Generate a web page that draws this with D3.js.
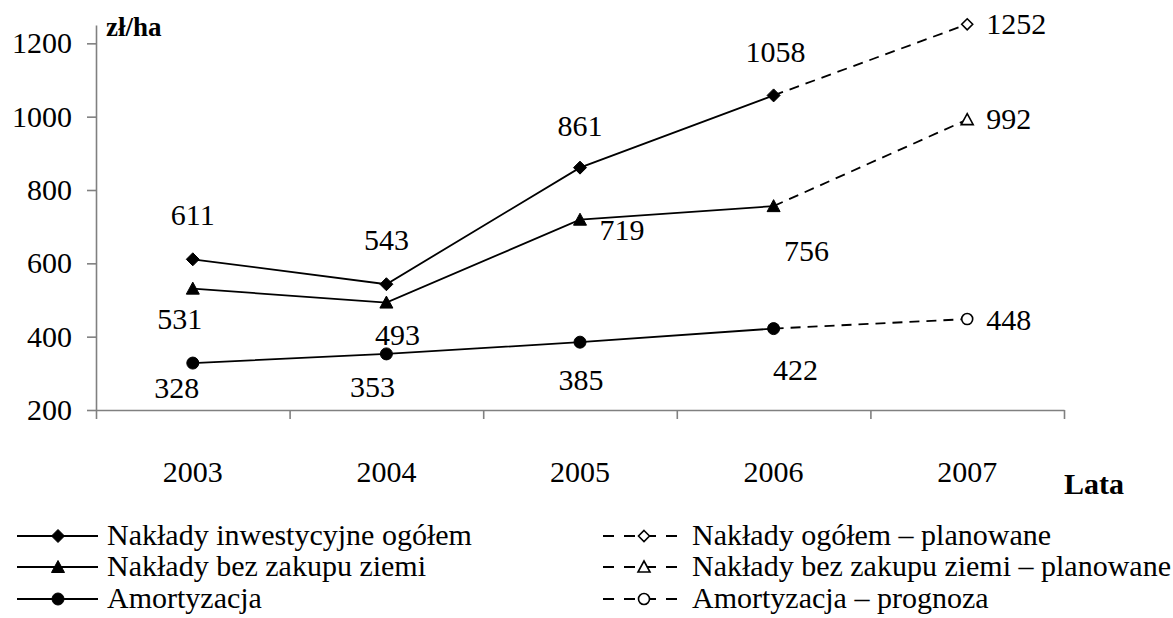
<!DOCTYPE html>
<html>
<head>
<meta charset="utf-8">
<script src="https://cdn.jsdelivr.net/npm/d3@7"></script>
<style>
  body { margin: 0; background: #fff; }
  text { font-family: "Liberation Serif", "Times New Roman", serif; fill: #000; }
</style>
</head>
<body>
<div id="viz"></div>
<script>
// values
var years = ["2003", "2004", "2005", "2006", "2007"];
var ogolem = [611, 543, 861, 1058, 1252];
var bezZiemi = [531, 493, 719, 756, 992];
var amortyzacja = [328, 353, 385, 422, 448];
var yTicks = [200, 400, 600, 800, 1000, 1200];
var lastActual = 3; // 2006 is last actual value, 2007 is plan/forecast

var legendSolid = ["Nakłady inwestycyjne ogółem", "Nakłady bez zakupu ziemi", "Amortyzacja"];
var legendDashed = ["Nakłady ogółem – planowane", "Nakłady bez zakupu ziemi – planowane", "Amortyzacja – prognoza"];

// label offsets (dx, dy to baseline, anchor) per series & year
var labelOff = [
  [[0, -34, "middle"], [0, -34, "middle"], [0, -32, "middle"], [2, -33, "middle"], [19, 10, "start"]],
  [[-13, 40, "middle"], [11, 42, "middle"], [42, 20, "middle"], [33, 55, "middle"], [19, 9, "start"]],
  [[-16, 35, "middle"], [-14, 43, "middle"], [1, 48, "middle"], [22, 51, "middle"], [19, 11, "start"]]
];

var width = 1173, height = 618;

var svg = d3.select("#viz").append("svg")
  .attr("width", width)
  .attr("height", height);

var x = d3.scaleBand().domain(years).range([96, 1064]).padding(0);
var cx = function(i) { return x(years[i]) + x.bandwidth() / 2; };
var y = d3.scaleLinear().domain([200, 1250]).range([410, 25]);

// y axis
var yAxis = svg.append("g")
  .attr("transform", "translate(96,0)")
  .call(d3.axisLeft(y).tickValues(yTicks).tickFormat(d3.format("d"))
    .tickSize(9).tickSizeOuter(0).tickPadding(15));
yAxis.selectAll("text").style("font-size", "30px").style("font-family", "Liberation Serif");

// x axis: ticks on category boundaries
var xEdges = d3.scaleLinear().domain([0, years.length]).range(x.range());
var xAxis = svg.append("g")
  .attr("transform", "translate(0,410)")
  .call(d3.axisBottom(xEdges).ticks(years.length).tickSize(9).tickSizeOuter(0).tickFormat(""));

svg.selectAll(".domain, .tick line")
  .attr("stroke", "#808080")
  .attr("stroke-width", 1.6);

svg.selectAll(".xlab")
  .data(years)
  .join("text")
  .attr("class", "xlab")
  .attr("x", function(d) { return x(d) + x.bandwidth() / 2; })
  .attr("y", 482)
  .attr("text-anchor", "middle")
  .style("font-size", "30px")
  .text(function(d) { return d; });

svg.append("text").attr("x", 106).attr("y", 36)
  .style("font-size", "27px").style("font-weight", "bold").text("zł/ha");
svg.append("text").attr("x", 1064).attr("y", 494)
  .style("font-size", "30px").style("font-weight", "bold").text("Lata");

// markers
function marker(sel, type, filled) {
  var p;
  if (type == "diamond") p = "M0,-6.5L6.5,0L0,6.5L-6.5,0Z";
  else if (type == "triangle") p = "M0,-6.5L6.5,5.5L-6.5,5.5Z";
  else p = d3.arc()({innerRadius: 0, outerRadius: filled ? 6 : 5.5, startAngle: 0, endAngle: 2 * Math.PI});
  if (!filled && type == "diamond") p = "M0,-5.5L5.5,0L0,5.5L-5.5,0Z";
  if (!filled && type == "triangle") p = "M0,-6L6,5L-6,5Z";
  return sel.append("path").attr("d", p)
    .attr("fill", filled ? "#000" : "#fff")
    .attr("stroke", "#000")
    .attr("stroke-width", filled ? 1 : 1.6);
}

var series = [ogolem, bezZiemi, amortyzacja];
var types = ["diamond", "triangle", "circle"];

var line = d3.line()
  .x(function(d) { return cx(d.i); })
  .y(function(d) { return y(d.v); });

series.forEach(function(vals, s) {
  var pts = vals.map(function(v, i) { return {i: i, v: v}; });
  svg.append("path")
    .attr("d", line(pts.slice(lastActual)))
    .attr("fill", "none").attr("stroke", "#000").attr("stroke-width", 1.8)
    .attr("stroke-dasharray", "10,7");
  svg.append("path")
    .attr("d", line(pts.slice(0, lastActual + 1)))
    .attr("fill", "none").attr("stroke", "#000").attr("stroke-width", 1.8);

  pts.forEach(function(d) {
    var g = svg.append("g").attr("transform", "translate(" + cx(d.i) + "," + y(d.v) + ")");
    marker(g, types[s], d.i <= lastActual);
    var o = labelOff[s][d.i];
    svg.append("text")
      .attr("x", cx(d.i) + o[0])
      .attr("y", y(d.v) + o[1])
      .attr("text-anchor", o[2])
      .style("font-size", "30px")
      .text(d.v);
  });
});

// legend
var rowY = [536, 567, 599];
var cols = [
  {x0: 17, x1: 98, mx: 58, tx: 107, labels: legendSolid, filled: true},
  {x0: 603, x1: 683, mx: 644, tx: 692, labels: legendDashed, filled: false}
];
cols.forEach(function(c) {
  c.labels.forEach(function(lab, r) {
    var ly = rowY[r];
    var seg = svg.append("line")
      .attr("x1", c.x0).attr("x2", c.x1)
      .attr("y1", ly).attr("y2", ly)
      .attr("stroke", "#000").attr("stroke-width", 2);
    if (!c.filled) seg.attr("stroke-dasharray", "11,10");
    var g = svg.append("g").attr("transform", "translate(" + c.mx + "," + ly + ")");
    marker(g, types[r], c.filled);
    svg.append("text")
      .attr("x", c.tx).attr("y", ly + 9)
      .style("font-size", "30px")
      .text(lab);
  });
});
</script>
</body>
</html>
